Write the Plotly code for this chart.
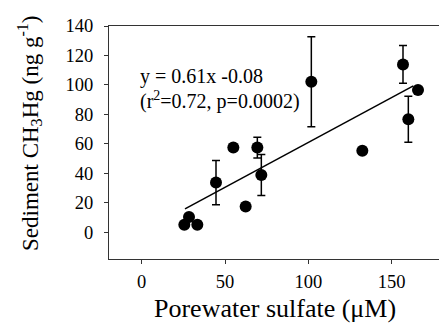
import plotly.graph_objects as go

sulfate = [25.6, 28.4, 33.4, 44.6, 55.0, 62.4, 69.4, 71.8, 101.8, 132.4, 156.8, 160.0, 165.8]
mehg = [4.9, 10.2, 5.0, 33.6, 57.4, 17.4, 57.4, 38.8, 102.1, 55.3, 113.9, 76.6, 96.5]
err = [None, None, None, 15.0, None, None, 7.0, 13.9, 30.6, None, 12.8, 15.6, None]

fit_x = [26.0, 163.0]
slope, intercept = 0.61, -0.08
fit_y = [slope * v + intercept for v in fit_x]

x_ticks = [0, 50, 100, 150]
y_ticks = [0, 20, 40, 60, 80, 100, 120, 140]

serif = "Liberation Serif"

W, H = 439, 333
l, r, t, b = 109, 0, 26, 74
pw, ph = W - l - r, H - t - b
def px(xp):
    return (xp - l) / pw
def py(yp):
    return 1 - (yp - t) / ph

ex = [sulfate[i] for i in range(len(err)) if err[i] is not None]
ey = [mehg[i] for i in range(len(err)) if err[i] is not None]
ee = [e for e in err if e is not None]

fig = go.Figure()
fig.add_trace(go.Scatter(x=fit_x, y=fit_y, mode="lines",
                         line=dict(color="black", width=1.5), showlegend=False))
fig.add_trace(go.Scatter(
    x=ex, y=ey, mode="markers", marker=dict(color="black", size=1, opacity=0),
    error_y=dict(type="data", array=ee, visible=True, color="black", thickness=1.5, width=4),
    showlegend=False))
fig.add_trace(go.Scatter(
    x=sulfate, y=mehg, mode="markers",
    marker=dict(color="black", size=12),
    showlegend=False))

anns = [
    dict(text="y = 0.61x -0.08", x=px(138), y=py(76), xanchor="left", yanchor="middle"),
    dict(text="(r<sup>2</sup>=0.72, p=0.0002)", x=px(138), y=py(100), xanchor="left", yanchor="middle"),
    dict(text="Porewater sulfate (\u03bcM)", x=px(274.5), y=py(308), xanchor="center", yanchor="middle",
         font=dict(family=serif, size=26, color="black")),
    dict(text="Sediment CH<sub>3</sub>Hg (ng g<sup>-1</sup>)", x=px(29), y=py(133), xanchor="center",
         yanchor="middle", textangle=-90, font=dict(family=serif, size=23, color="black")),
]
for a in anns:
    a.setdefault("font", dict(family=serif, size=20, color="black"))
    a.update(xref="paper", yref="paper", showarrow=False)

fig.update_layout(
    width=W, height=H,
    margin=dict(l=l, r=r, t=t, b=b, autoexpand=False),
    paper_bgcolor="white", plot_bgcolor="white",
    font=dict(family=serif, size=18, color="black"),
    xaxis=dict(range=[-19.6, 178.4], tickvals=x_ticks, showgrid=False, zeroline=False,
               showline=True, linecolor="#333", linewidth=1.2, mirror=True, automargin=False,
               ticks="outside", ticklen=4, tickcolor="#333", ticklabelstandoff=2,
               tickfont=dict(family=serif, size=18.5, color="black")),
    yaxis=dict(range=[-18.3, 140], tickvals=y_ticks, showgrid=False, zeroline=False,
               showline=True, linecolor="#333", linewidth=1.2, automargin=False,
               ticks="outside", ticklen=4, tickcolor="#333", ticklabelstandoff=7,
               tickfont=dict(family=serif, size=18.5, color="black")),
    annotations=anns,
)

fig.write_html("out.html", config={"displayModeBar": False},
               post_script="document.body.style.margin='0';")
